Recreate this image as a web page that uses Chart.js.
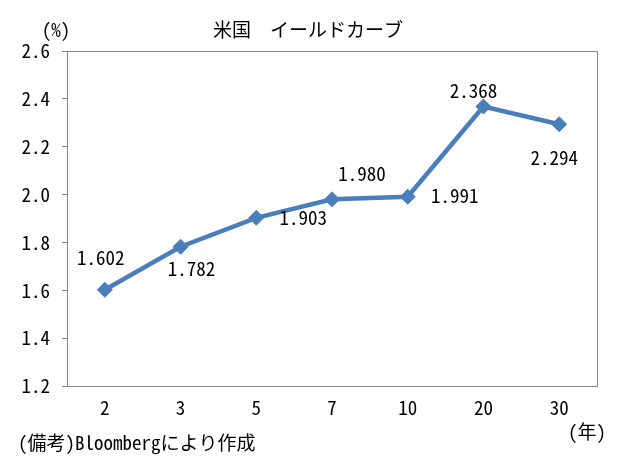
<!DOCTYPE html>
<html lang="ja">
<head>
<meta charset="utf-8">
<script src="https://cdn.jsdelivr.net/npm/chart.js@4.4.1/dist/chart.umd.min.js"></script>
<style>
    html, body { margin:0; padding:0; background:#fff; }
    #caixa { width:620px; height:457px; position:relative; }
</style>
</head>
<body>
<div id="caixa"><canvas id="grafico"></canvas></div>
<script>
    // ---------------- Dados ----------------
    const anos = ['2', '3', '5', '7', '10', '20', '30'];
    const rendimentos = [1.602, 1.782, 1.903, 1.980, 1.991, 2.368, 2.294];
    const eixoY = { min: 1.2, max: 2.6, passo: 0.2 };

    const titulo = '米国　イールドカーブ';
    const unidadeY = '(%)';
    const unidadeX = '(年)';
    const nota = '(備考)Bloombergにより作成';

    // deslocamento (px) de cada rótulo em relação ao ponto
    const deslocRotulos = [[-4,-32],[11,22],[47,0],[30,-26],[47,-1],[-10,-16],[-5,34]];

    const corLinha = '#4a7ebb';
    const corMoldura = '#868686';

    function fonteExiste(nome) {
        const c = document.createElement('canvas').getContext('2d');
        const amostra = '1.602mmWWiil備考';
        c.font = '40px serif';
        const a = c.measureText(amostra).width;
        c.font = `40px "${nome}", serif`;
        return Math.abs(c.measureText(amostra).width - a) > 0.5;
    }

    const temMono = fonteExiste('Noto Sans Mono CJK JP');
    const familia = temMono ? '"Noto Sans Mono CJK JP", "Noto Sans CJK JP", monospace'
                            : '"Liberation Mono", "Noto Sans CJK JP", monospace';
    const tamNum = temMono ? 19 : 16;
    const fonteNum = `${tamNum}px ${familia}`;
    const fonteJp = `19px ${familia}`;

    Chart.defaults.font.family = familia;
    Chart.defaults.font.size = tamNum;
    Chart.defaults.color = '#000';

    // ---------------- Plugins ----------------
    const moldura = {
        id: 'moldura',
        afterDatasetsDraw(chart) {
            const a = chart.chartArea, ctx = chart.ctx;
            ctx.save();
            ctx.strokeStyle = corMoldura;
            ctx.lineWidth = 1;
            ctx.strokeRect(Math.round(a.left) + 0.5, Math.round(a.top) + 0.5,
                           Math.round(a.right - a.left), Math.round(a.bottom - a.top));
            ctx.restore();
        }
    };

    const rotulos = {
        id: 'rotulos',
        afterDatasetsDraw(chart) {
            const ctx = chart.ctx;
            const meta = chart.getDatasetMeta(0);
            ctx.save();
            ctx.font = fonteNum;
            ctx.fillStyle = '#000';
            ctx.textAlign = 'center';
            ctx.textBaseline = 'middle';
            meta.data.forEach((pt, i) => {
                const [dx, dy] = deslocRotulos[i];
                ctx.fillText(rendimentos[i].toFixed(3), pt.x + dx, pt.y + dy);
            });
            ctx.restore();
        }
    };

    const textos = {
        id: 'textos',
        afterDraw(chart) {
            const ctx = chart.ctx;
            ctx.save();
            ctx.fillStyle = '#000';
            ctx.textBaseline = 'middle';
            ctx.font = fonteJp;
            ctx.textAlign = 'center';
            ctx.fillText(titulo, 308, 30);
            ctx.fillText(unidadeX, 587, 432);
            ctx.fillText(unidadeY, 56, 30);
            ctx.textAlign = 'left';
            ctx.fillText(nota, 18, 443);
            ctx.restore();
        }
    };

    // ---------------- Gráfico ----------------
    new Chart(document.getElementById('grafico'), {
        type: 'line',
        data: {
            labels: anos,
            datasets: [{
                data: rendimentos,
                borderColor: corLinha,
                backgroundColor: corLinha,
                borderWidth: 4.5,
                tension: 0,
                pointStyle: 'rectRot',
                pointRadius: 7.5,
                pointBorderWidth: 1,
                pointBackgroundColor: corLinha,
                pointBorderColor: corLinha
            }]
        },
        options: {
            responsive: true,
            maintainAspectRatio: false,
            animation: false,
            layout: { padding: { top: 51, right: 23, bottom: 0, left: 0 } },
            plugins: { legend: { display: false }, tooltip: { enabled: false }, title: { display: false } },
            scales: {
                x: {
                    offset: true,
                    grid: { display: false, drawTicks: false },
                    border: { display: false },
                    ticks: { padding: 10, font: { size: tamNum }, maxRotation: 0 },
                    afterFit: s => { s.height = 71; }
                },
                y: {
                    min: eixoY.min,
                    max: eixoY.max,
                    grid: { drawOnChartArea: false, drawTicks: true, tickLength: 5, color: corMoldura },
                    border: { display: false },
                    ticks: {
                        stepSize: eixoY.passo,
                        padding: 12,
                        font: { size: tamNum },
                        callback: v => Number(v).toFixed(1)
                    },
                    afterFit: s => { s.width = 67; }
                }
            }
        },
        plugins: [moldura, rotulos, textos]
    });
</script>
</body>
</html>
